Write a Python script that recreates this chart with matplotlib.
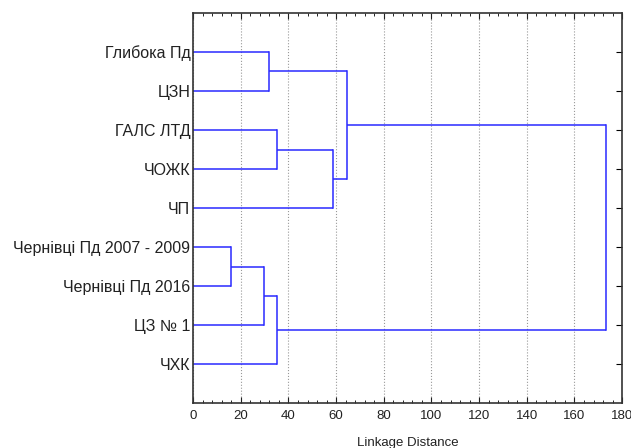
import matplotlib
matplotlib.use("Agg")
import matplotlib.pyplot as plt
from matplotlib.ticker import MultipleLocator

plt.rcParams['font.family'] = ['Liberation Sans', 'DejaVu Sans']

# Leaves, top to bottom
labels = ["Глибока Пд", "ЦЗН", "ГАЛС ЛТД", "ЧОЖК", "ЧП",
          "Чернівці Пд 2007 - 2009", "Чернівці Пд 2016", "ЦЗ № 1", "ЧХК"]

# Merge steps (linkage-style): ids < 9 are leaves, ids >= 9 are earlier clusters
merge_a = [5, 9, 0, 2, 10, 12, 11, 15]
merge_b = [6, 7, 1, 3, 8, 4, 14, 13]
merge_h = [15.7, 29.7, 31.8, 35.0, 35.1, 58.7, 64.5, 173.1]

x_ticks = [0, 20, 40, 60, 80, 100, 120, 140, 160, 180]
x_label = "Linkage Distance"

fig = plt.figure(figsize=(6.31, 4.48), dpi=100)
ax = fig.add_axes([0.306, 0.1004, 0.680, 0.8706])

n = len(labels)
pos = {i: i + 1.0 for i in range(n)}
hgt = {i: 0.0 for i in range(n)}
color = '#2a2aff'
for k, (a, b, h) in enumerate(zip(merge_a, merge_b, merge_h)):
    cid = n + k
    ya, yb = pos[a], pos[b]
    ax.plot([hgt[a], h], [ya, ya], color=color, lw=1.1, solid_capstyle='butt')
    ax.plot([hgt[b], h], [yb, yb], color=color, lw=1.1, solid_capstyle='butt')
    ax.plot([h, h], [ya, yb], color=color, lw=1.1)
    pos[cid] = (ya + yb) / 2
    hgt[cid] = h

ax.set_xlim(0, 180)
ax.set_ylim(n + 1, 0)
ax.set_xticks(x_ticks)
ax.xaxis.set_minor_locator(MultipleLocator(4))
ax.set_yticks(range(1, n + 1))
ax.set_yticklabels(labels, fontsize=11.5, color='#222222')
ax.tick_params(axis='x', labelsize=9.5, colors='#222222', direction='in', top=True, length=4, pad=5)
ax.tick_params(axis='x', which='minor', direction='in', top=True, length=2)
ax.tick_params(axis='y', direction='in', right=True, left=False, length=4, pad=2)
ax.grid(axis='x', which='major', linestyle=':', color='#999999', lw=0.8)
for s in ax.spines.values():
    s.set_color('#333333')
    s.set_linewidth(1.2)
ax.set_xlabel(x_label, fontsize=9.5, color='#222222', labelpad=11)

fig.savefig("out.png", dpi=100)
